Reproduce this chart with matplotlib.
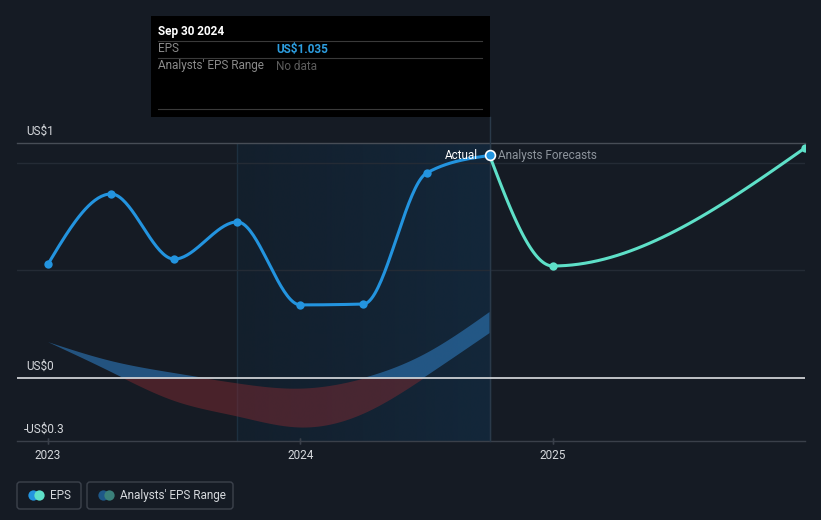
import numpy as np
import matplotlib
matplotlib.use("Agg")
import matplotlib.pyplot as plt
from matplotlib.patches import Rectangle, FancyBboxPatch
from matplotlib.colors import LinearSegmentedColormap

plt.rcParams['font.family'] = ['Roboto', 'DejaVu Sans']

# ---------------- data ----------------
actual_x = [2023.0, 2023.25, 2023.5, 2023.75, 2024.0, 2024.25, 2024.5, 2024.75]
actual_eps = [0.530, 0.856, 0.553, 0.726, 0.340, 0.344, 0.953, 1.035]

forecast_x = [2024.75, 2025.0, 2026.0]
forecast_eps = [1.035, 0.521, 1.070]

range_x = [2023.0, 2023.25, 2023.5, 2023.75, 2024.0, 2024.25, 2024.5, 2024.75]
range_high = [0.167, 0.079, 0.023, -0.023, -0.047, 0.000, 0.116, 0.307]
range_low = [0.167, 0.028, -0.105, -0.177, -0.228, -0.163, 0.010, 0.209]

xtick_values = [2023, 2024, 2025]
xtick_labels = ['2023', '2024', '2025']
ylabel_texts = ['US$1', 'US$0', '-US$0.3']

highlight_start = 2023.75
highlight_end = 2024.75

# ---------------- style ----------------
BG = '#151b24'
EPS_BLUE = '#2394df'
FC_TEAL = '#5ee0c8'
TXT = '#d5d8dc'

W, H = 821, 520
fig = plt.figure(figsize=(W / 100, H / 100), dpi=100, facecolor=BG)

L, R, T, B = 17, 805, 143, 441
ax = fig.add_axes([L / W, 1 - B / H, (R - L) / W, (B - T) / H])
ax.set_facecolor(BG)
xmin, xmax = 2022.877, 2026.0
ymin, ymax = -0.293, 1.093
ax.set_xlim(xmin, xmax)
ax.set_ylim(ymin, ymax)
for s in ax.spines.values():
    s.set_visible(False)
ax.set_xticks([])
ax.set_yticks([])


def monotone(x, y, n=40):
    x = np.asarray(x, float)
    y = np.asarray(y, float)
    h = np.diff(x)
    s = np.diff(y) / h
    m = np.zeros_like(x)
    for i in range(1, len(x) - 1):
        p = (s[i - 1] * h[i] + s[i] * h[i - 1]) / (h[i - 1] + h[i])
        m[i] = (np.sign(s[i - 1]) + np.sign(s[i])) * min(abs(s[i - 1]), abs(s[i]), 0.5 * abs(p))
    if len(x) > 2:
        m[0] = (3 * s[0] - m[1]) / 2
        m[-1] = (3 * s[-1] - m[-2]) / 2
    else:
        m[0] = m[-1] = s[0]
    xs, ys = [], []
    for i in range(len(x) - 1):
        t = np.linspace(0, 1, n)
        h00 = 2 * t**3 - 3 * t**2 + 1
        h10 = t**3 - 2 * t**2 + t
        h01 = -2 * t**3 + 3 * t**2
        h11 = t**3 - t**2
        yy = h00 * y[i] + h10 * h[i] * m[i] + h01 * y[i + 1] + h11 * h[i] * m[i + 1]
        xx = x[i] + t * h[i]
        if i > 0:
            xx, yy = xx[1:], yy[1:]
        xs.append(xx)
        ys.append(yy)
    return np.concatenate(xs), np.concatenate(ys)


def smooth(x, y, n=300):
    # natural-looking smooth curve (cubic through points) for the band edges
    x = np.asarray(x, float)
    y = np.asarray(y, float)
    nn = len(x)
    h = np.diff(x)
    A = np.zeros((nn, nn))
    rhs = np.zeros(nn)
    A[0, 0] = A[-1, -1] = 1
    for i in range(1, nn - 1):
        A[i, i - 1] = h[i - 1]
        A[i, i] = 2 * (h[i - 1] + h[i])
        A[i, i + 1] = h[i]
        rhs[i] = 3 * ((y[i + 1] - y[i]) / h[i] - (y[i] - y[i - 1]) / h[i - 1])
    c = np.linalg.solve(A, rhs)
    xs = np.linspace(x[0], x[-1], n)
    idx = np.clip(np.searchsorted(x, xs) - 1, 0, nn - 2)
    dx = xs - x[idx]
    b = (y[1:] - y[:-1]) / h - h * (2 * c[:-1] + c[1:]) / 3
    d = (c[1:] - c[:-1]) / (3 * h)
    ys = y[idx] + b[idx] * dx + c[idx] * dx**2 + d[idx] * dx**3
    return xs, ys


# highlight region gradient
grad = np.linspace(0, 1, 256).reshape(1, -1)
cmap = LinearSegmentedColormap.from_list('hl', ['#131f2c', '#13273a'])
ax.imshow(grad, extent=[highlight_start, highlight_end, ymin, ymax], aspect='auto',
          cmap=cmap, zorder=0.5, interpolation='bicubic')
for xv in (highlight_start, highlight_end):
    ax.axvline(xv, color='#1d3040', lw=1, zorder=0.6)

# grid lines
ax.axhline(ymax, color='#474d56', lw=1, zorder=1, clip_on=False)
for gv in (1.0, 0.5):
    ax.axhline(gv, color='#242b35', lw=1, zorder=1)
ax.axhline(ymin, color='#3a404a', lw=1, zorder=1, clip_on=False)

# analysts range band
bx, bh = smooth(range_x, range_high)
_, bl = smooth(range_x, range_low)
ax.fill_between(bx, np.maximum(bl, 0), np.maximum(bh, 0), where=bh > 0,
                color='#2a6ca6', alpha=0.7, lw=0, zorder=2, interpolate=True)
ax.fill_between(bx, np.minimum(bl, 0), np.minimum(bh, 0), where=bl < 0,
                color='#7d2a31', alpha=0.5, lw=0, zorder=2, interpolate=True)

# zero line
ax.axhline(0, color='#cdd0d4', lw=1.3, zorder=3)

# vertical tooltip line
ax.axvline(highlight_end, ymin=0, ymax=(B - 117) / (B - T), color='#2a3a4a', lw=1,
           zorder=2.5, clip_on=False)

# EPS line
ex, ey = monotone(actual_x, actual_eps)
ax.plot(ex, ey, color=EPS_BLUE, lw=2.2, zorder=4, solid_capstyle='round')
ax.scatter(actual_x[:-1], actual_eps[:-1], s=36, color=EPS_BLUE, zorder=5, lw=0)

# forecast line
fx, fy = monotone(forecast_x, forecast_eps)
ax.plot(fx, fy, color=FC_TEAL, lw=2.2, zorder=4)
ax.scatter(forecast_x[1:], forecast_eps[1:], s=36, color=FC_TEAL, zorder=5, lw=0, clip_on=True)

ax.scatter([actual_x[-1]], [actual_eps[-1]], s=50, color=EPS_BLUE, edgecolor='white',
           lw=1.2, zorder=6)

ax.annotate('Actual', (actual_x[-1], actual_eps[-1]), xytext=(-8, 0), textcoords='offset points',
            ha='right', va='center', color='white', fontsize=8.5, zorder=7)
ax.annotate('Analysts Forecasts', (actual_x[-1], actual_eps[-1]), xytext=(6, 0),
            textcoords='offset points', ha='left', va='center', color='#8d949c',
            fontsize=8.5, zorder=7)

# x ticks
for xv, lab in zip(xtick_values, xtick_labels):
    ax.plot([xv, xv], [ymin, ymin], marker='|', ms=5, color='#3a404a', clip_on=False,
            zorder=1, markeredgewidth=1)
    ax.annotate(lab, (xv, ymin), xytext=(0, -6), textcoords='offset points', ha='center',
                va='top', color=TXT, fontsize=8.5, annotation_clip=False)

# y labels (placed above their lines)
for yv, lab in zip([ymax, 0, ymin], ylabel_texts):
    ax.annotate(lab, (xmin, yv), xytext=(7 if lab != '-US$0.3' else 5, 4),
                textcoords='offset points', ha='left', va='bottom', color=TXT,
                fontsize=8.5, annotation_clip=False, zorder=7)

# ---------------- overlay (tooltip, legend) ----------------
ov = fig.add_axes([0, 0, 1, 1], facecolor='none')
ov.set_xlim(0, W)
ov.set_ylim(H, 0)
ov.axis('off')

ov.add_patch(Rectangle((151, 16), 339, 101, facecolor='black', edgecolor='none', zorder=1))
for yl in (41, 58, 109):
    ov.plot([158, 482], [yl, yl], color='#3a3a3a', lw=0.8, zorder=2)
ov.text(158, 31, 'Sep 30 2024', color='white', fontsize=8.5, fontweight='bold', va='center', zorder=3)
ov.text(158, 49, 'EPS', color='#8a8a8a', fontsize=8.5, va='center', zorder=3)
ov.text(276, 49, 'US$1.035', color='#2d9ee0', fontsize=8.5, fontweight='bold', va='center', zorder=3)
ov.text(158, 66, "Analysts' EPS Range", color='#8a8a8a', fontsize=8.5, va='center', zorder=3)
ov.text(276, 66, 'No data', color='#5c5c5c', fontsize=8.5, va='center', zorder=3)

# legend
ov.add_patch(FancyBboxPatch((17, 482), 64, 27, boxstyle='round,pad=0,rounding_size=3',
                            facecolor='none', edgecolor='#3c424c', lw=1))
ov.add_patch(FancyBboxPatch((87, 482), 146, 27, boxstyle='round,pad=0,rounding_size=3',
                            facecolor='none', edgecolor='#3c424c', lw=1))
ov.scatter([33], [495], s=55, color=EPS_BLUE, lw=0, zorder=3)
ov.scatter([39], [495], s=55, color=FC_TEAL, lw=0, zorder=4)
ov.text(50, 495.5, 'EPS', color=TXT, fontsize=8.5, va='center')
ov.scatter([103], [495], s=55, color='#1e5888', lw=0, zorder=3)
ov.scatter([109], [495], s=55, color='#3a807a', lw=0, zorder=4)
ov.text(120, 495.5, "Analysts' EPS Range", color=TXT, fontsize=8.5, va='center')

fig.savefig('out.png', dpi=100, facecolor=BG)
